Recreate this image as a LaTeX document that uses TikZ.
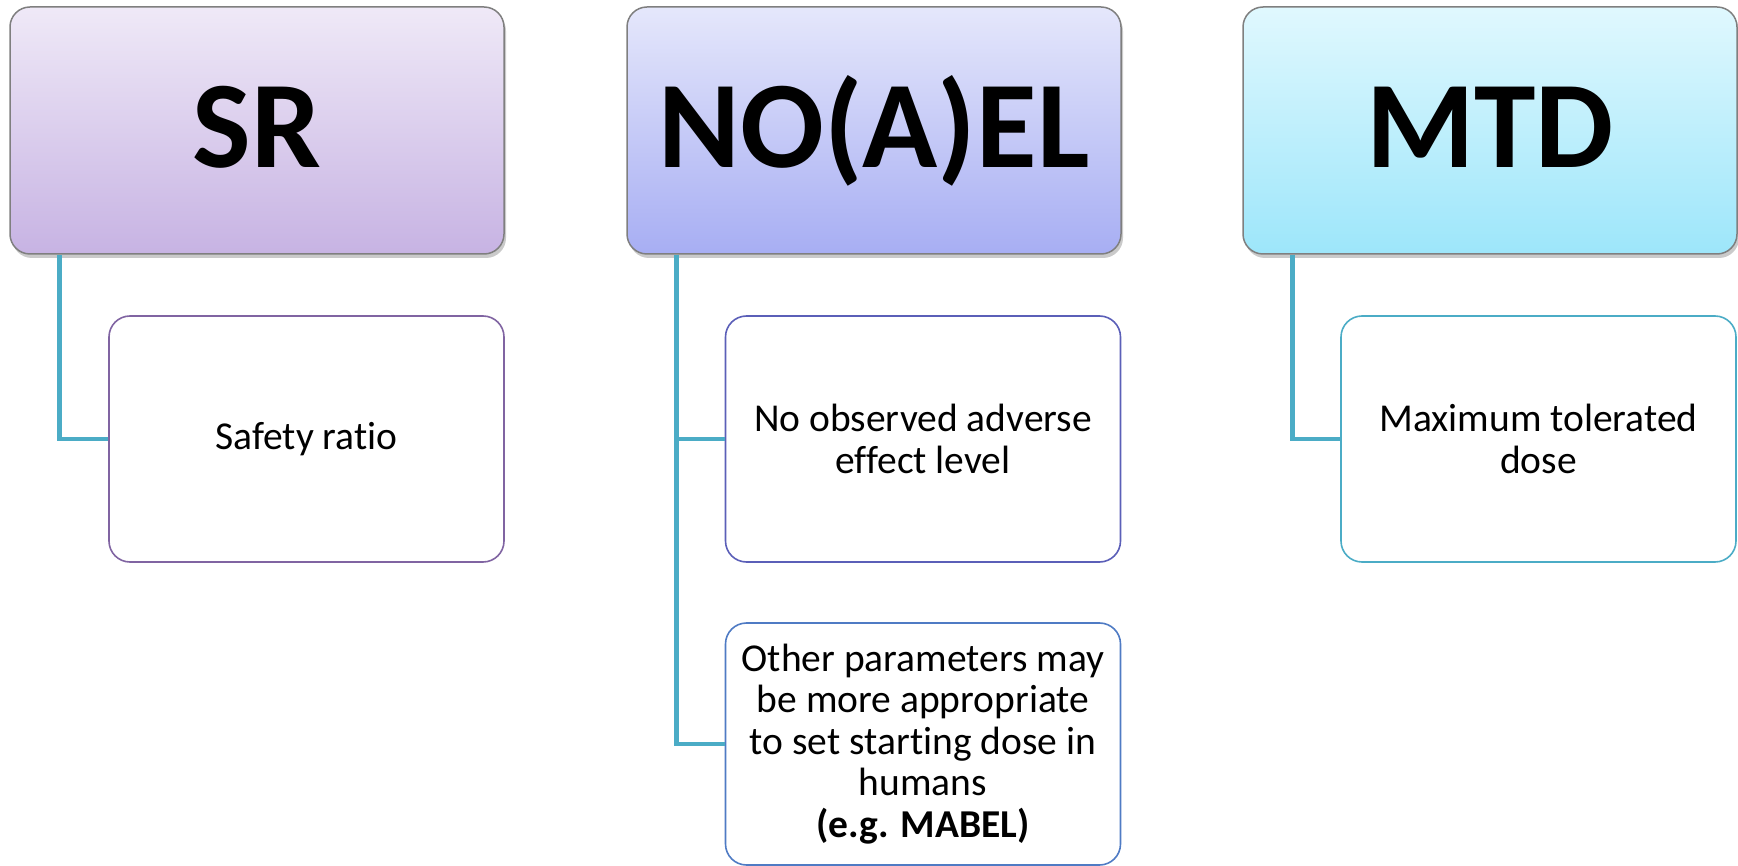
\documentclass[tikz,border=0pt]{standalone}
\usepackage{fontspec}
\setmainfont[Ligatures=NoCommon]{Carlito}
\usetikzlibrary{shadows}
\definecolor{srtop}{HTML}{EFE9F7}
\definecolor{srbot}{HTML}{C7B3E3}
\definecolor{notop}{HTML}{E5E7FB}
\definecolor{nobot}{HTML}{A7AEF3}
\definecolor{mttop}{HTML}{E0F8FE}
\definecolor{mtbot}{HTML}{9DE6FA}
\definecolor{srline}{HTML}{8064A2}
\definecolor{noline}{HTML}{5B5FB8}
\definecolor{noline2}{HTML}{4F7BC4}
\definecolor{mtline}{HTML}{4BACC6}
\definecolor{connc}{HTML}{4BACC6}
\definecolor{headline}{HTML}{7F7F7F}
\tikzset{
  headbox/.style={draw=headline, line width=1.5pt, rounded corners=20pt,
    minimum width=494pt, minimum height=247pt, inner sep=0pt,
    text height=80pt, text depth=6pt,
    font=\fontsize{124}{149}\selectfont\bfseries,
    drop shadow={shadow xshift=2pt, shadow yshift=-4pt, opacity=0.35, fill=black!60}},
  childbox/.style={draw, fill=white, line width=1.6pt, rounded corners=21pt,
    minimum width=395pt, minimum height=246pt, inner sep=0pt, align=center,
    font=\fontsize{39.5}{41.5}\selectfont},
  conn/.style={draw=connc, line width=4.5pt},
}
\begin{document}
\begin{tikzpicture}[x=1pt, y=-1pt]
\useasboundingbox (0,0) rectangle (1738,866);

% headers
\node[headbox, top color=srtop, bottom color=srbot] (srh) at (257,130.5) {SR};
\node[headbox, top color=notop, bottom color=nobot] (noh) at (874,130.5) {NO(A)EL};
\node[headbox, top color=mttop, bottom color=mtbot] (mth) at (1490,130.5) {MTD};

% children
\node[childbox, draw=srline] (src) at (306.5,439) {Safety ratio};
\node[childbox, draw=noline] (noa) at (923,439) {No observed adverse\\effect level};
\node[childbox, draw=noline2, minimum height=242pt] (nob) at (923,744)
  {Other parameters may\\be more appropriate\\to set starting dose in\\humans\\\textbf{(e.g. MABEL)}};
\node[childbox, draw=mtline] (mtc) at (1538.5,439) {Maximum tolerated\\dose};

% connectors
\draw[conn] ([xshift=50pt]srh.south west) |- (src.west);
\draw[conn] ([xshift=50pt]noh.south west) |- (noa.west);
\draw[conn] ([xshift=50pt]noh.south west) |- (nob.west);
\draw[conn] ([xshift=50pt]mth.south west) |- (mtc.west);
\end{tikzpicture}
\end{document}
